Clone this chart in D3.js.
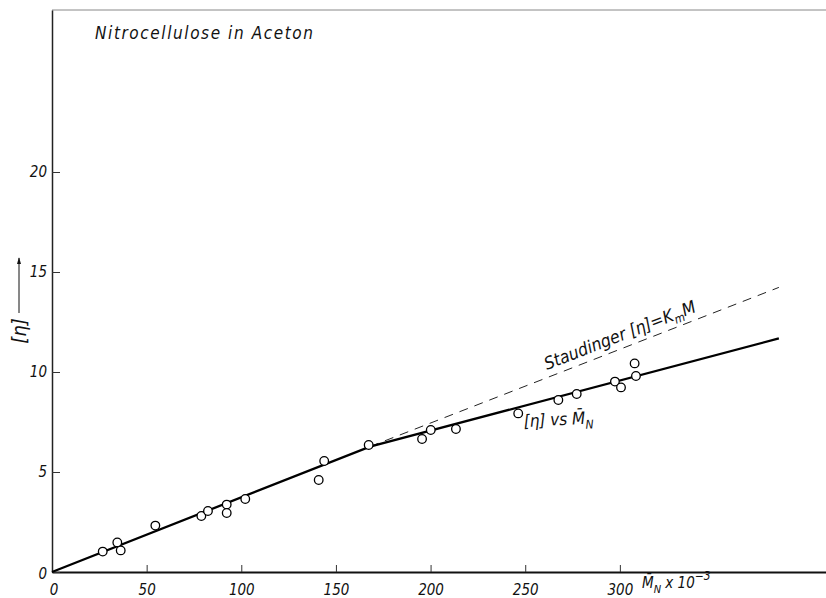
<!DOCTYPE html>
<html><head><meta charset="utf-8">
<script src="https://cdn.jsdelivr.net/npm/d3@7"></script>
<style>
body{margin:0;background:#fff;}
svg{display:block;}
text{font-family:"Liberation Sans Narrow","DejaVu Sans Condensed","Liberation Sans",sans-serif;font-style:italic;fill:#111;}
</style></head><body>
<svg id="c" width="826" height="598"></svg>
<script>
// ---- data ----
const pointsX = [26.8,34.5,36.3,54.6,78.9,82.4,92.3,92.3,102.1,140.9,143.8,167.3,195.5,200.1,213.4,246.3,267.5,277.2,297.4,300.6,308.5,307.8];
const pointsY = [1.02,1.48,1.08,2.32,2.80,3.05,3.37,2.95,3.65,4.60,5.55,6.35,6.65,7.10,7.15,7.93,8.60,8.90,9.52,9.23,9.80,10.43];
const fitX = [0,168,384];
const fitY = [0,6.27,11.68];
const staudX = [168,384];
const staudY = [6.27,14.23];
const xTicks = [0,50,100,150,200,250,300];
const yTicks = [0,5,10,15,20];

const svg = d3.select("#c");
const x = d3.scaleLinear().domain([0,408.9]).range([52,826]);
const y = d3.scaleLinear().domain([0,28.1]).range([572,10]);

// top frame line
svg.append("line").attr("x1",52).attr("x2",826).attr("y1",10).attr("y2",10)
  .attr("stroke","#888").attr("stroke-width",1);

// axes
const xa = svg.append("g").attr("transform","translate(0,572)")
  .call(d3.axisBottom(x).tickValues(xTicks).tickSizeInner(-7).tickSizeOuter(0).tickPadding(10).tickFormat(d3.format("d")));
xa.select(".domain").attr("stroke","#111").attr("stroke-width",2);
xa.selectAll(".tick line").attr("stroke","#333").attr("stroke-width",1);
xa.selectAll(".tick text").attr("font-size",15).attr("dy","0.85em");
xa.attr("font-family",null);

const ya = svg.append("g").attr("transform","translate(52,0)")
  .call(d3.axisLeft(y).tickValues(yTicks).tickSizeInner(-8).tickSizeOuter(0).tickPadding(5).tickFormat(d3.format("d")));
ya.select(".domain").attr("stroke","#222").attr("stroke-width",1.5);
ya.selectAll(".tick line").attr("stroke","#333").attr("stroke-width",1);
ya.selectAll(".tick text").attr("font-size",15);
ya.attr("font-family",null);
ya.selectAll(".tick").filter(d=>d===0).select("text").attr("dy","0.45em");
xa.selectAll(".tick").filter(d=>d===0).select("text").attr("dx","0.1em");

// Staudinger dashed line
svg.append("path").datum(staudX.map((d,i)=>[d,staudY[i]]))
  .attr("d",d3.line().x(d=>x(d[0])).y(d=>y(d[1])))
  .attr("fill","none").attr("stroke","#222").attr("stroke-width",1).attr("stroke-dasharray","9,7");

// fitted line
svg.append("path").datum(fitX.map((d,i)=>[d,fitY[i]]))
  .attr("d",d3.line().x(d=>x(d[0])).y(d=>y(d[1])))
  .attr("fill","none").attr("stroke","#000").attr("stroke-width",2.3);

// points
svg.selectAll("circle.pt").data(pointsX.map((d,i)=>[d,pointsY[i]])).enter()
  .append("circle").attr("class","pt")
  .attr("cx",d=>x(d[0])).attr("cy",d=>y(d[1])).attr("r",4.3)
  .attr("fill","#fff").attr("stroke","#000").attr("stroke-width",1.3);

// title
svg.append("text").attr("x",95).attr("y",39).attr("font-size",17)
  .attr("textLength",218).attr("lengthAdjust","spacing")
  .text("Nitrocellulose in Aceton");

// Staudinger label
const ang = Math.atan2(y(staudY[1])-y(staudY[0]), x(staudX[1])-x(staudX[0]))*180/Math.PI;
const st = svg.append("text").attr("font-size",17.5)
  .attr("transform",`translate(547,370) rotate(${ang})`);
st.append("tspan").text("Staudinger [η]=K");
st.append("tspan").attr("font-size",12).attr("dy",4).text("m");
st.append("tspan").attr("dy",-4).text("M");

// fit label
const fl = svg.append("text").attr("font-size",17).attr("transform","translate(524,427) rotate(-3)");
fl.append("tspan").text("[η] vs M\u0304");
fl.append("tspan").attr("font-size",12).attr("dy",5).text("N");

// x label
const xl = svg.append("text").attr("font-size",15).attr("x",642).attr("y",588);
xl.append("tspan").text("M\u0304");
xl.append("tspan").attr("font-size",11).attr("dy",5).text("N");
xl.append("tspan").attr("dy",-5).text(" x 10");
xl.append("tspan").attr("font-size",12).attr("dy",-8).text("−3");

// y label
svg.append("text").attr("font-size",20).attr("text-anchor","middle")
  .attr("transform","translate(26,331) rotate(-90)").text("[η]");
svg.append("defs").append("marker").attr("id","ah").attr("viewBox","0 0 10 10")
  .attr("refX",9).attr("refY",5).attr("markerWidth",7).attr("markerHeight",7).attr("orient","auto")
  .append("path").attr("d","M0,2L10,5L0,8Z").attr("fill","#111");
svg.append("line").attr("x1",19).attr("x2",19).attr("y1",313).attr("y2",258)
  .attr("stroke","#111").attr("stroke-width",1).attr("marker-end","url(#ah)");
</script></body></html>
